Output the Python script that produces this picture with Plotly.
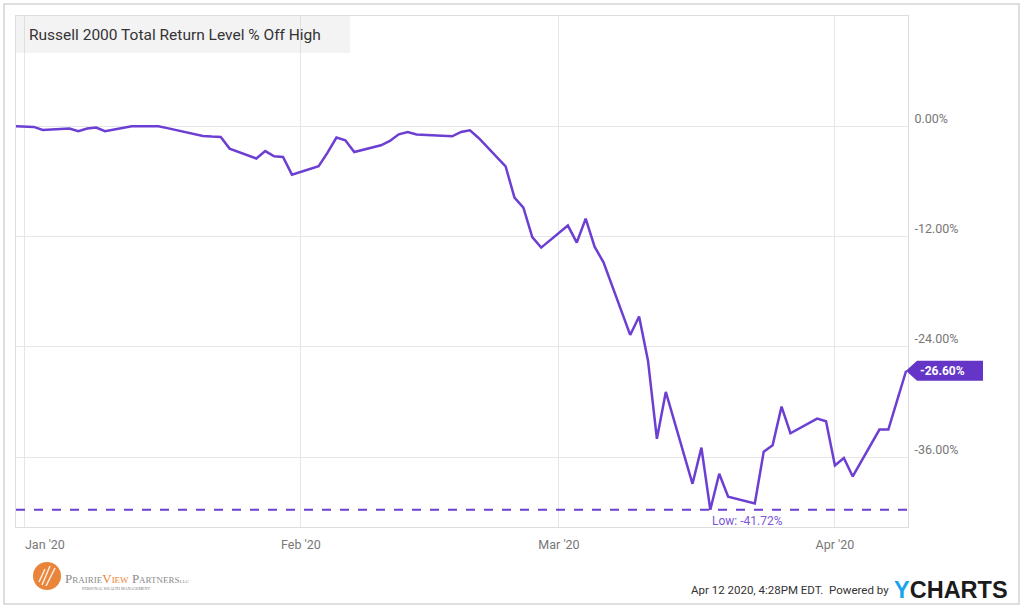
import plotly.graph_objects as go

# ---------------- data ----------------
dates = [
    "2019-12-31", "2020-01-02", "2020-01-03", "2020-01-06", "2020-01-07", "2020-01-08",
    "2020-01-09", "2020-01-10", "2020-01-13", "2020-01-14", "2020-01-15", "2020-01-16",
    "2020-01-17", "2020-01-21", "2020-01-22", "2020-01-23", "2020-01-24", "2020-01-27",
    "2020-01-28", "2020-01-29", "2020-01-30", "2020-01-31", "2020-02-03", "2020-02-04",
    "2020-02-05", "2020-02-06", "2020-02-07", "2020-02-10", "2020-02-11", "2020-02-12",
    "2020-02-13", "2020-02-14", "2020-02-18", "2020-02-19", "2020-02-20", "2020-02-21",
    "2020-02-24", "2020-02-25", "2020-02-26", "2020-02-27", "2020-02-28", "2020-03-02",
    "2020-03-03", "2020-03-04", "2020-03-05", "2020-03-06", "2020-03-09", "2020-03-10",
    "2020-03-11", "2020-03-12", "2020-03-13", "2020-03-16", "2020-03-17", "2020-03-18",
    "2020-03-19", "2020-03-20", "2020-03-23", "2020-03-24", "2020-03-25", "2020-03-26",
    "2020-03-27", "2020-03-30", "2020-03-31", "2020-04-01", "2020-04-02", "2020-04-03",
    "2020-04-06", "2020-04-07", "2020-04-08", "2020-04-09",
]
pct_off_high = [
    0.00, -0.07, -0.40, -0.25, -0.54, -0.25,
    -0.14, -0.54, 0.00, 0.00, 0.00, 0.00,
    -0.20, -1.05, -1.12, -1.16, -2.43, -3.50,
    -2.70, -3.26, -3.33, -5.26, -4.35, -2.87,
    -1.23, -1.52, -2.80, -2.07, -1.60, -0.87,
    -0.62, -0.90, -1.09, -0.62, -0.44, -1.30,
    -4.35, -7.76, -8.85, -12.05, -13.20, -10.80,
    -12.65, -10.05, -13.10, -14.80, -22.70, -20.70,
    -25.50, -34.00, -28.90, -38.90, -34.96, -41.72,
    -37.80, -40.30, -41.05, -35.40, -34.70, -30.50,
    -33.40, -31.80, -32.10, -36.90, -36.10, -38.10,
    -33.00, -33.00, -29.80, -26.60,
]
y_ticks = [0, -12, -24, -36]
month_starts = ["2020-01-01", "2020-02-01", "2020-03-01", "2020-04-01"]
month_label_pos = ["2020-01-03 06:00", "2020-02-01", "2020-03-01", "2020-04-01"]
month_labels = ["Jan '20", "Feb '20", "Mar '20", "Apr '20"]

title_text = "Russell 2000 Total Return Level % Off High"
low_value = min(pct_off_high)
low_date = dates[pct_off_high.index(low_value)]
last_value = pct_off_high[-1]

# ---------------- layout constants ----------------
W, H = 1024, 609
L, R, T, B = 16, 116, 16, 82
X_RANGE = ["2019-12-31", "2020-04-09 05:00"]
Y_RANGE = [-43.6, 12.0]
LINE = "#6c3fd2"
TAG = "#6535c8"
GRID = "#e6e6e6"

pw, ph = W - L - R, H - T - B


def px(x):
    return (x - L) / pw


def py(y):
    return (H - B - y) / ph


fig = go.Figure()
fig.add_trace(go.Scatter(
    x=dates, y=pct_off_high, mode="lines",
    line=dict(color=LINE, width=2.5),
    hoverinfo="x+y", showlegend=False,
))

# title box
fig.add_shape(type="rect", xref="paper", yref="paper", x0=px(16), x1=px(350),
              y0=py(53), y1=py(16), fillcolor="rgba(200,200,200,0.22)",
              line=dict(width=0), layer="above")
# outer frame
fig.add_shape(type="rect", xref="paper", yref="paper", x0=px(4), x1=px(1019),
              y0=py(604), y1=py(4), line=dict(color="#d4d4d4", width=1.5),
              fillcolor="rgba(0,0,0,0)", layer="below")
# low dashed line
fig.add_shape(type="line", xref="paper", yref="y", x0=0, x1=1, y0=low_value, y1=low_value,
              line=dict(color=LINE, width=2, dash="dash"), layer="above")
# last value tag (arrow-shaped)
tag_y = (last_value - Y_RANGE[0]) / (Y_RANGE[1] - Y_RANGE[0])
fig.add_shape(type="path", xref="paper", yref="paper",
              xsizemode="pixel", ysizemode="pixel", xanchor=1.0, yanchor=tag_y,
              path="M-2,0 L9,10 L75,10 L75,-10 L9,-10 Z",
              fillcolor=TAG, line=dict(width=0), layer="above")
# logo circle
fig.add_shape(type="circle", xref="paper", yref="paper", x0=px(33), x1=px(61),
              y0=py(590), y1=py(562), fillcolor="#e9843b", line=dict(width=0))
for (xa, ya, xb, yb) in [(42, 585, 50, 566), (46, 586, 55, 568), (39, 582, 45, 569)]:
    fig.add_shape(type="line", xref="paper", yref="paper", x0=px(xa), y0=py(ya),
                  x1=px(xb), y1=py(yb), line=dict(color="rgba(255,255,255,0.85)", width=1.5))

annotations = [
    dict(text=title_text, xref="paper", yref="paper", x=px(27), y=py(35),
         xanchor="left", yanchor="middle", showarrow=False,
         font=dict(family="Roboto", size=15.5, color="#333333")),
    dict(text=f"Low: {low_value:.2f}%", xref="x", yref="y", x=low_date, y=low_value,
         xanchor="left", yanchor="top", xshift=0, yshift=-2, showarrow=False,
         font=dict(family="Roboto", size=12, color="#7b55db")),
    dict(text=f"<b>{last_value:.2f}%</b>", xref="paper", yref="y", x=1.0, y=last_value,
         xanchor="left", yanchor="middle", xshift=10, showarrow=False,
         font=dict(family="Roboto", size=12, color="white")),
    dict(text="P<span style='font-size:9px'>RAIRIE</span><span style='color:#e9843b'>V</span>"
              "<span style='color:#e9843b;font-size:9px'>IEW</span> P"
              "<span style='font-size:9px'>ARTNERS</span><span style='font-size:5px'>LLC</span>",
         xref="paper", yref="paper", x=px(63), y=py(578), xanchor="left", yanchor="middle",
         showarrow=False, font=dict(family="Liberation Serif", size=13, color="#8c8c8c")),
    dict(text="PERSONAL WEALTH MANAGEMENT", xref="paper", yref="paper", x=px(80), y=py(588),
         xanchor="left", yanchor="middle", showarrow=False,
         font=dict(family="Liberation Serif", size=4, color="#777777")),
    dict(text="Apr 12 2020, 4:28PM EDT.  Powered by", xref="paper", yref="paper",
         x=px(891), y=py(590), xanchor="right", yanchor="middle", showarrow=False,
         font=dict(family="Roboto", size=11.5, color="#333333")),
    dict(text="<span style='color:#1ca3ea'>Y</span>CHARTS", xref="paper", yref="paper",
         x=px(892), y=py(590), xanchor="left", yanchor="middle", showarrow=False,
         font=dict(family="Liberation Sans", size=23.5, color="#1b1b1b", weight="bold")),
]
for a in annotations:
    fig.add_annotation(**a)

fig.update_layout(
    width=W, height=H,
    margin=dict(l=L, r=R, t=T, b=B),
    paper_bgcolor="white", plot_bgcolor="white",
    showlegend=False,
    xaxis=dict(
        type="date", range=X_RANGE,
        tickvals=month_label_pos, ticktext=month_labels,
        showgrid=False, ticks="", ticklabelstandoff=6,
        tickfont=dict(family="Roboto", size=12.5, color="#777777"),
        minor=dict(tickvals=month_starts, showgrid=True, gridcolor=GRID, gridwidth=1, ticks=""),
        showline=True, mirror=True, linecolor="#dddddd", linewidth=1,
        zeroline=False, fixedrange=True,
    ),
    yaxis=dict(
        range=Y_RANGE, side="right",
        tickvals=y_ticks, ticktext=[f"{v:.2f}%" for v in y_ticks],
        showgrid=True, gridcolor=GRID, gridwidth=1,
        ticks="", ticklabelstandoff=3, ticklabelshift=-8,
        tickfont=dict(family="Roboto", size=12.5, color="#777777"),
        showline=True, mirror=True, linecolor="#dddddd", linewidth=1,
        zeroline=False, fixedrange=True,
    ),
)

fig.write_html("out.html", config={"displayModeBar": False},
               post_script="document.body.style.margin='0';")
